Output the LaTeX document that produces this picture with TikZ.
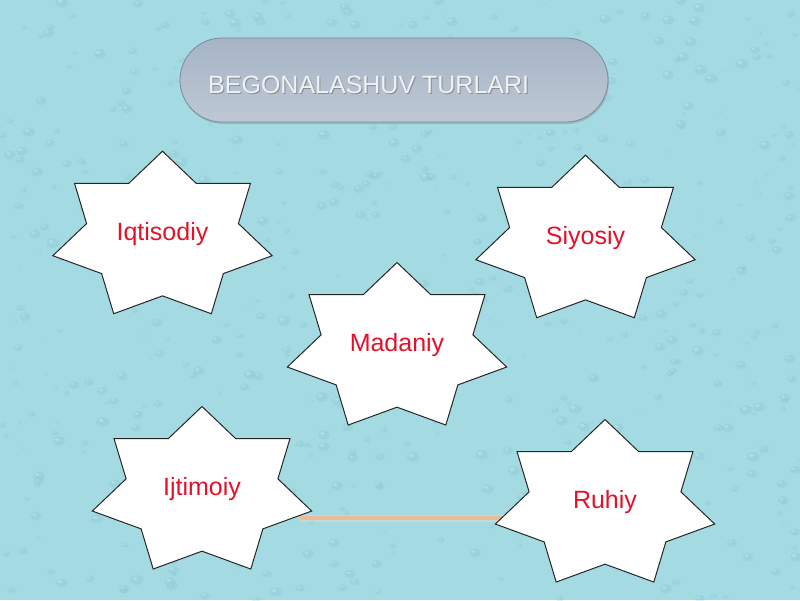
\documentclass[tikz,border=0pt]{standalone}
\usepackage{fontspec}
\setmainfont{Liberation Sans}
\usetikzlibrary{shadows}
\definecolor{bgblue}{RGB}{164,218,226}
\definecolor{dropdark}{RGB}{120,190,204}
\definecolor{pilltop}{RGB}{166,180,198}
\definecolor{pillbot}{RGB}{190,200,212}
\definecolor{pillborder}{RGB}{120,138,160}
\definecolor{titletext}{RGB}{238,242,247}
\definecolor{starred}{RGB}{226,18,42}
\definecolor{peach}{RGB}{232,188,150}
\tikzset{
  starshape/.style={draw=black!85,line width=1pt,fill=white,line join=miter},
  starlabel/.style={text=starred,font=\fontsize{25}{30}\selectfont,anchor=base,inner sep=0pt},
  pill/.style={rounded corners=42pt,minimum width=428pt,minimum height=84pt,
    top color=pilltop,bottom color=pillbot,draw=pillborder,line width=0.8pt,
    drop shadow={shadow xshift=1pt,shadow yshift=-2pt,opacity=0.35}},
  drop/.style={fill=dropdark,opacity=0.22},
  glint/.style={fill=white,opacity=0.22}
}
\newcommand{\heptastar}[4]{%
  \begin{scope}[shift={#2}]
    \begin{scope}[xscale=112.5,yscale=-85.5]
      \draw[starshape] (90:1)
        \foreach \k in {0,...,6} { -- ({90+(\k+0.5)*360/7}:0.692) -- ({90+(\k+1)*360/7}:1) } -- cycle;
    \end{scope}
    \node[starlabel] (#1) at (0,3.5) {#3};
  \end{scope}}
\begin{document}
\begin{tikzpicture}[x=1pt,y=-1pt]
\useasboundingbox (0,0) rectangle (800,600);
\fill[bgblue] (0,0) rectangle (800,600);
% water-drop texture
\pgfmathsetseed{4242}
\foreach \i in {1,...,600}{
  \pgfmathsetmacro\xx{random(0,800)}
  \pgfmathsetmacro\yy{random(0,600)}
  \pgfmathsetmacro\rr{1.5+5*rnd}
  \fill[drop] (\xx,\yy) ellipse ({\rr} and {0.75*\rr});
  \fill[glint] (\xx-0.3*\rr,\yy-0.25*\rr) ellipse ({0.35*\rr} and {0.25*\rr});
}
% title
\node[pill] (title) at (394,80) {};
\node[anchor=base west,inner sep=0pt,text=black!45,font=\fontsize{25}{30}\selectfont] at (209,94) {BEGONALASHUV TURLARI};
\node[anchor=base west,inner sep=0pt,text=titletext,font=\fontsize{25}{30}\selectfont] (titletxt) at (208,93) {BEGONALASHUV TURLARI};
% connector (behind stars)
\coordinate (la) at (300,518);
\coordinate (lb) at (505,518);
\draw[peach!60,line width=7pt,opacity=0.5] (la) -- (lb);
\draw[peach,line width=3.5pt] (la) -- (lb);
% stars
\heptastar{iqt}{(162.5,236.7)}{Iqtisodiy}{}
\heptastar{siy}{(585.5,240.7)}{Siyosiy}{}
\heptastar{mad}{(397,348)}{Madaniy}{}
\heptastar{ijt}{(202,492)}{Ijtimoiy}{}
\heptastar{ruh}{(605,505)}{Ruhiy}{}
\end{tikzpicture}
\end{document}
